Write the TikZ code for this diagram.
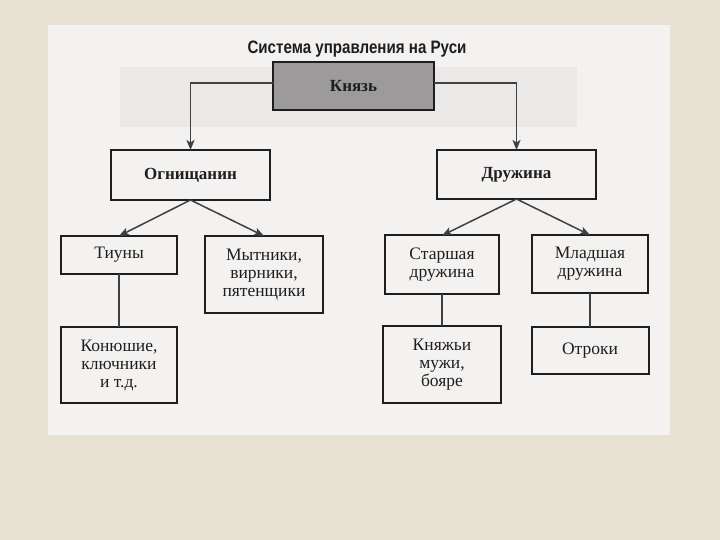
\documentclass[tikz,border=0pt]{standalone}
\usepackage{fontspec}
\setmainfont{Liberation Serif}
\newfontfamily\titlefont[FakeStretch=0.84]{Liberation Sans}
\usetikzlibrary{arrows.meta,positioning}
\definecolor{slidebg}{HTML}{E7E1D3}
\definecolor{scanbg}{HTML}{F4F2F1}
\definecolor{ghost}{HTML}{EAE9E8}
\definecolor{knyazfill}{HTML}{9C9A9A}
\definecolor{ink}{HTML}{1E1E1E}
\tikzset{
	org chart/.style={
		x=1pt, y=1pt,
		node distance=30 and 30,
		ar/.style={draw=ink!85, line width=1.5pt, -{Stealth[length=10pt,width=8pt,inset=2.5pt]}},
		ln/.style={draw=ink!85, line width=1.5pt}
		},
	bx/.style 2 args={
		draw=ink, line width=2pt, fill=scanbg, text=ink,
		align=center, inner sep=0pt, outer sep=0pt,
		minimum width=#1, minimum height=#2,
		font=\fontsize{17.5}{18}\selectfont},
	bx head/.style={font=\fontsize{17}{18}\selectfont\bfseries},
	bx title/.style={text=ink, font=\titlefont\bfseries\fontsize{18}{20}\selectfont}
}

\begin{document}
\begin{tikzpicture}[org chart]
	\fill[slidebg] (0,0) rectangle (720,540);
	\useasboundingbox (0,0) rectangle (720,540);
	\fill[scanbg] (48,105) rectangle (670,515);
	\fill[ghost] (120,413) rectangle (577,473);
	\node[bx title, anchor=base] (title) at (357,486) {Система управления на Руси};
	\node[bx={161}{48}, bx head, fill=knyazfill] (knyaz) at (353.5,454) {Князь};
	\node[bx={159}{50}, bx head] (ognish) at (190.5,365) {Огнищанин};
	\node[bx={159}{49}, bx head] (druzh) at (516.5,365.5) {Дружина};
	\node[bx={116}{38}] (tiuny) at (119,285) {Тиуны};
	\node[bx={118}{77}] (mytn) at (264,265.5) {Мытники,\\вирники,\\пятенщики};
	\node[bx={114}{59}] (starsh) at (442,275) {Старшая\\дружина};
	\node[bx={116}{58}] (mladsh) at (590,276) {Младшая\\дружина};
	\node[bx={116}{76}, below=53 of tiuny] (konyush) {Конюшие,\\ключники\\и т.д.};
	\node[bx={118}{77}, below=32 of starsh] (knyazhi) {Княжьи\\мужи,\\бояре};
	\node[bx={117}{47}, below=34 of mladsh] (otroki) {Отроки};
	\draw[ar] ([yshift=3pt]knyaz.west) -| (ognish.north);
	\draw[ar] ([yshift=3pt]knyaz.east) -| (druzh.north);
	\draw[ar] (ognish.south) -- (tiuny.north);
	\draw[ar] (ognish.south) -- (mytn.north);
	\draw[ar] (druzh.south) -- (starsh.north);
	\draw[ar] (druzh.south) -- (mladsh.north);
	\draw[ln] (tiuny) -- (konyush);
	\draw[ln] (starsh) -- (knyazhi);
	\draw[ln] (mladsh) -- (otroki);
\end{tikzpicture}
\end{document}
